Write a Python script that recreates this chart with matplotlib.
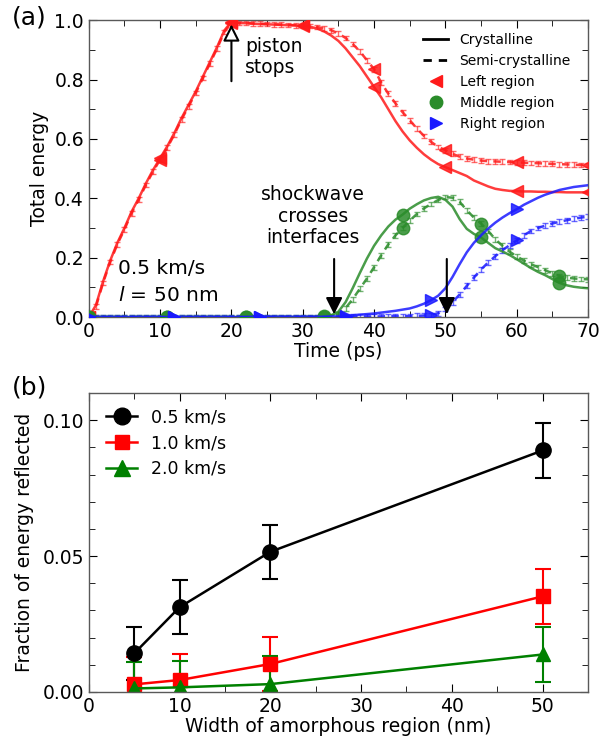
#!/usr/bin/env python3
"""Two-panel figure: energy histories per region and reflected energy fraction."""

import matplotlib

matplotlib.use("Agg")
import matplotlib.pyplot as plt
from matplotlib.lines import Line2D
from matplotlib.ticker import FormatStrFormatter, MultipleLocator
import numpy as np

# ---- panel (a): normalised total energy per region, 0.5 km/s, l = 50 nm ----
time_ps = np.arange(0, 71)

left_cryst = [
    0.0, 0.04, 0.12, 0.19, 0.25, 0.30, 0.355, 0.40, 0.45, 0.495,
    0.535, 0.575, 0.62, 0.67, 0.715, 0.76, 0.81, 0.86, 0.91, 0.965,
    0.995, 0.99, 0.99, 0.988, 0.987, 0.986, 0.985, 0.984, 0.983, 0.982,
    0.98, 0.978, 0.972, 0.962, 0.948, 0.93, 0.905, 0.875, 0.845, 0.81,
    0.775, 0.74, 0.70, 0.66, 0.625, 0.595, 0.57, 0.548, 0.53, 0.515,
    0.505, 0.495, 0.485, 0.475, 0.46, 0.45, 0.44, 0.432, 0.428, 0.425,
    0.424, 0.423, 0.423, 0.422, 0.422, 0.421, 0.421, 0.42, 0.42, 0.42,
    0.42,
]
left_semi = [
    0.0, 0.035, 0.115, 0.185, 0.245, 0.295, 0.35, 0.395, 0.445, 0.49,
    0.53, 0.57, 0.615, 0.665, 0.71, 0.755, 0.805, 0.855, 0.905, 0.96,
    0.99, 0.99, 0.99, 0.989, 0.988, 0.987, 0.986, 0.985, 0.984, 0.983,
    0.982, 0.98, 0.977, 0.972, 0.966, 0.955, 0.94, 0.92, 0.895, 0.865,
    0.835, 0.79, 0.752, 0.72, 0.69, 0.663, 0.635, 0.61, 0.59, 0.573,
    0.562, 0.55, 0.54, 0.534, 0.53, 0.527, 0.525, 0.524, 0.523, 0.522,
    0.521, 0.52, 0.519, 0.518, 0.517, 0.516, 0.515, 0.514, 0.513, 0.512,
    0.512,
]
middle_cryst = [
    0.0, 0.0, 0.0, 0.0, 0.0, 0.0, 0.0, 0.0, 0.0, 0.0,
    0.0, 0.0, 0.0, 0.0, 0.0, 0.0, 0.0, 0.0, 0.0, 0.0,
    0.0, 0.0, 0.0, 0.0, 0.0, 0.0, 0.0, 0.0, 0.0, 0.0,
    0.0, 0.0, 0.0, 0.002, 0.006, 0.018, 0.05, 0.097, 0.148, 0.197,
    0.24, 0.275, 0.305, 0.328, 0.345, 0.365, 0.38, 0.393, 0.401, 0.405,
    0.395, 0.372, 0.33, 0.297, 0.28, 0.268, 0.25, 0.232, 0.221, 0.209,
    0.195, 0.18, 0.165, 0.152, 0.141, 0.128, 0.115, 0.107, 0.102, 0.099,
    0.097,
]
middle_semi = [
    0.0, 0.0, 0.0, 0.0, 0.0, 0.0, 0.0, 0.0, 0.0, 0.0,
    0.0, 0.0, 0.0, 0.0, 0.0, 0.0, 0.0, 0.0, 0.0, 0.0,
    0.0, 0.0, 0.0, 0.0, 0.0, 0.0, 0.0, 0.0, 0.0, 0.0,
    0.0, 0.0, 0.0, 0.0, 0.002, 0.01, 0.03, 0.06, 0.095, 0.13,
    0.168, 0.208, 0.245, 0.275, 0.30, 0.325, 0.347, 0.366, 0.381, 0.394,
    0.404, 0.402, 0.388, 0.36, 0.335, 0.315, 0.29, 0.262, 0.24, 0.22,
    0.205, 0.19, 0.178, 0.168, 0.158, 0.147, 0.138, 0.133, 0.13, 0.128,
    0.127,
]
right_cryst = [
    0.0, 0.0, 0.0, 0.0, 0.0, 0.0, 0.0, 0.0, 0.0, 0.0,
    0.0, 0.0, 0.0, 0.0, 0.0, 0.0, 0.0, 0.0, 0.0, 0.0,
    0.0, 0.0, 0.0, 0.001, 0.001, 0.001, 0.001, 0.001, 0.001, 0.001,
    0.001, 0.001, 0.001, 0.001, 0.002, 0.002, 0.004, 0.006, 0.008, 0.01,
    0.012, 0.015, 0.018, 0.021, 0.025, 0.029, 0.036, 0.045, 0.057, 0.072,
    0.097, 0.135, 0.178, 0.218, 0.25, 0.275, 0.298, 0.318, 0.335, 0.35,
    0.363, 0.378, 0.39, 0.402, 0.412, 0.42, 0.428, 0.433, 0.438, 0.441,
    0.444,
]
right_semi = [
    0.0, 0.0, 0.0, 0.0, 0.0, 0.0, 0.0, 0.0, 0.0, 0.0,
    0.0, 0.0, 0.0, 0.0, 0.0, 0.0, 0.0, 0.0, 0.0, 0.0,
    0.0, 0.0, 0.0, 0.0, 0.0, 0.0, 0.0, 0.0, 0.0, 0.0,
    0.0, 0.0, 0.0, 0.0, 0.0, 0.001, 0.001, 0.001, 0.002, 0.002,
    0.002, 0.002, 0.003, 0.003, 0.003, 0.003, 0.004, 0.005, 0.007, 0.013,
    0.027, 0.05, 0.076, 0.105, 0.133, 0.16, 0.184, 0.205, 0.225, 0.242,
    0.258, 0.275, 0.29, 0.30, 0.308, 0.315, 0.321, 0.326, 0.331, 0.335,
    0.338,
]
semi_err = 0.008

# ---- panel (b): fraction of energy reflected vs amorphous width ----
width_nm = [5, 10, 20, 50]
reflected_05 = [0.0142, 0.0312, 0.0516, 0.0889]
reflected_05_err = [0.0098, 0.0100, 0.0100, 0.0100]
reflected_10 = [0.0028, 0.0044, 0.0103, 0.0352]
reflected_10_err = [0.0100, 0.0094, 0.0100, 0.0100]
reflected_20 = [0.0013, 0.0017, 0.0029, 0.0138]
reflected_20_err = [0.0096, 0.0097, 0.0105, 0.0100]
speed_labels = ["0.5 km/s", "1.0 km/s", "2.0 km/s"]

RED = "#ff1a1a"
GREEN = "#2a8c2a"
BLUE = "#1a1aff"
SPINE = "0.35"

plt.rcParams.update({
    "font.family": "DejaVu Sans",
    "xtick.direction": "in",
    "ytick.direction": "in",
    "xtick.top": True,
    "ytick.right": True,
    "xtick.major.size": 6,
    "ytick.major.size": 6,
    "xtick.minor.size": 4,
    "ytick.minor.size": 4,
    "xtick.minor.visible": True,
    "ytick.minor.visible": True,
    "xtick.labelsize": 13.5,
    "ytick.labelsize": 13.5,
    "axes.labelsize": 13.5,
    "axes.linewidth": 1.0,
    "axes.edgecolor": SPINE,
})

fig = plt.figure(figsize=(6.0, 7.46), dpi=100)
ax1 = fig.add_axes([0.148, 0.575, 0.832, 0.398])
ax2 = fig.add_axes([0.148, 0.0724, 0.832, 0.4006])

series = [
    (left_cryst, left_semi, RED, "<", 10),
    (middle_cryst, middle_semi, GREEN, "o", 11),
    (right_cryst, right_semi, BLUE, ">", 12),
]
for cryst, semi, color, marker, every in series:
    ax1.plot(time_ps, cryst, "-", color=color, lw=1.8, alpha=0.85,
             marker=marker, ms=9, markevery=every, zorder=3)
    ax1.errorbar(time_ps, semi, yerr=semi_err, fmt="none", ecolor=color,
                 elinewidth=1.0, capsize=2, capthick=1.0, alpha=0.65, zorder=2)
    ax1.plot(time_ps, semi, color=color, lw=1.8, alpha=0.85, ls=(0, (3, 2.5)),
             marker=marker, ms=9, markevery=every, zorder=3)

ax1.set_xlim(0, 70)
ax1.set_ylim(0, 1.0)
ax1.xaxis.set_major_locator(MultipleLocator(10))
ax1.xaxis.set_minor_locator(MultipleLocator(5))
ax1.yaxis.set_major_locator(MultipleLocator(0.2))
ax1.yaxis.set_minor_locator(MultipleLocator(0.1))
ax1.set_xlabel("Time (ps)", labelpad=1)
ax1.set_ylabel("Total energy", labelpad=4)

# piston arrow with hollow head
ax1.annotate("", xy=(20, 0.995), xytext=(20, 0.785),
             arrowprops=dict(arrowstyle="-|>,head_length=1.0,head_width=0.5",
                             fc="white", ec="black", lw=1.5))
ax1.text(21.9, 0.875, "piston\nstops", fontsize=13.5, va="center", ha="left",
         linespacing=1.15)

ax1.text(31.4, 0.34, "shockwave\ncrosses\ninterfaces", fontsize=13.5,
         va="center", ha="center", linespacing=1.15)
for t_cross in (34.4, 50.2):
    ax1.annotate("", xy=(t_cross, 0.0), xytext=(t_cross, 0.205),
                 arrowprops=dict(arrowstyle="-|>,head_length=1.0,head_width=0.5",
                                 fc="black", ec="black", lw=1.5),
                 zorder=5)

ax1.text(4.1, 0.165, "0.5 km/s", fontsize=14.5, va="center", ha="left")
ax1.text(4.1, 0.072, r"$l$ = 50 nm", fontsize=14.5, va="center", ha="left")

legend_handles = [
    Line2D([], [], color="black", lw=2, ls="-"),
    Line2D([], [], color="black", lw=2, ls=(0, (3, 2.5))),
    Line2D([], [], color=RED, ls="none", marker="<", ms=9),
    Line2D([], [], color=GREEN, ls="none", marker="o", ms=9),
    Line2D([], [], color=BLUE, ls="none", marker=">", ms=9),
]
ax1.legend(legend_handles,
           ["Crystalline", "Semi-crystalline", "Left region",
            "Middle region", "Right region"],
           loc="upper right", frameon=False, fontsize=10, handlelength=1.8,
           labelspacing=0.5, borderaxespad=0.3, bbox_to_anchor=(0.985, 0.99))

# ---- panel (b) ----
speed_styles = [
    (reflected_05, reflected_05_err, "black", "o", 11),
    (reflected_10, reflected_10_err, "red", "s", 9.5),
    (reflected_20, reflected_20_err, "green", "^", 10.5),
]
speed_handles = []
for vals, errs, color, marker, ms in speed_styles:
    ax2.errorbar(width_nm, vals, yerr=errs, color=color, lw=1.8, marker=marker,
                 ms=ms, capsize=6, capthick=1.5, elinewidth=1.5)
    speed_handles.append(Line2D([], [], color=color, lw=1.8, marker=marker,
                                ms=ms + 1))

ax2.set_xlim(0, 55)
ax2.set_ylim(0, 0.11)
ax2.xaxis.set_major_locator(MultipleLocator(10))
ax2.xaxis.set_minor_locator(MultipleLocator(5))
ax2.yaxis.set_major_locator(MultipleLocator(0.05))
ax2.yaxis.set_minor_locator(MultipleLocator(0.01))
ax2.yaxis.set_major_formatter(FormatStrFormatter("%.2f"))
ax2.set_xlabel("Width of amorphous region (nm)", labelpad=1)
ax2.set_ylabel("Fraction of energy reflected", labelpad=6)
ax2.legend(speed_handles, speed_labels, loc="upper left", frameon=False,
           fontsize=12.5, handlelength=1.8, numpoints=1, labelspacing=0.45,
           borderaxespad=0.3, bbox_to_anchor=(0.01, 0.99))

fig.text(12 / 600, 1 - 6 / 746, "(a)", fontsize=18, va="top", ha="left")
fig.text(12 / 600, 1 - 375 / 746, "(b)", fontsize=18, va="top", ha="left")

fig.savefig("out.png", dpi=100)
